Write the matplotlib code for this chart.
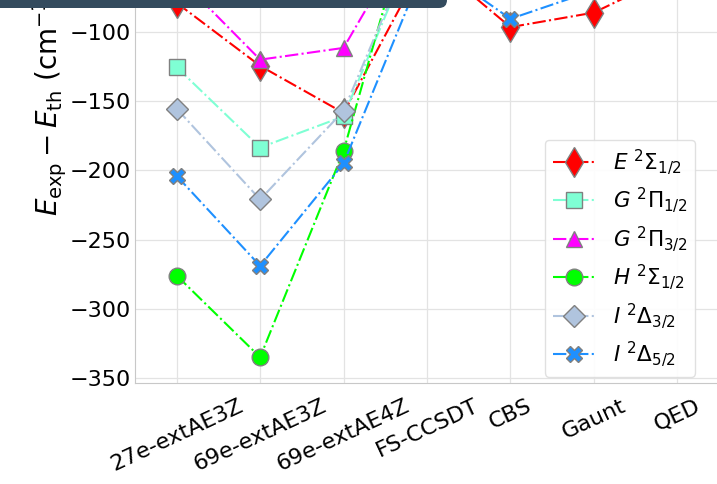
import matplotlib
matplotlib.use('Agg')
import matplotlib.pyplot as plt
from matplotlib.patches import FancyBboxPatch
from matplotlib.transforms import IdentityTransform

# Categories along x
steps = ['27e-extAE3Z', '69e-extAE3Z', '69e-extAE4Z', 'FS-CCSDT', 'CBS', 'Gaunt', 'QED']

# E_exp - E_th (cm^-1) per state (values above -77 are off-screen estimates)
e_sigma_12 = [-79, -124.5, -158.5, -46, -96.5, -86, -57]
g_pi_12 = [-125.5, -183.5, -161, -16, -45, -40, -35]
g_pi_32 = [-59, -120, -111.5, -8, -30, -25, -20]
h_sigma_12 = [-276, -335, -186, 28, -20, -15, -10]
i_delta_32 = [-155.5, -221, -157, -14, -40, -35, -30]
i_delta_52 = [-204, -269, -195, -48, -90.5, -70, -60]

series = [
    (e_sigma_12, r'$E\ ^2\Sigma_{1/2}$', 'red', 'd'),
    (g_pi_12, r'$G\ ^2\Pi_{1/2}$', 'aquamarine', 's'),
    (g_pi_32, r'$G\ ^2\Pi_{3/2}$', 'magenta', '^'),
    (h_sigma_12, r'$H\ ^2\Sigma_{1/2}$', 'lime', 'o'),
    (i_delta_32, r'$I\ ^2\Delta_{3/2}$', 'lightsteelblue', 'D'),
    (i_delta_52, r'$I\ ^2\Delta_{5/2}$', 'dodgerblue', 'X'),
]
marker_sizes = {'d': 15, 's': 12, '^': 12, 'o': 12, 'D': 11, 'X': 12}

plt.rcParams['font.family'] = ['DejaVu Sans']
fig = plt.figure(figsize=(7.17, 4.84), dpi=100)
ax = fig.add_axes([135 / 717, 1 - 383 / 484, (719 - 135) / 717, 383 / 484])

x = list(range(len(steps)))
for values, label, color, marker in series:
    ax.plot(x, values, linestyle='-.', color=color, linewidth=1.5,
            marker=marker, markersize=marker_sizes[marker],
            markerfacecolor=color, markeredgecolor='gray', markeredgewidth=1.0,
            label=label)

ax.set_xlim(-0.5, 6.5)
ax.set_ylim(-353.6, -76.9)
ax.set_xticks(x)
ax.set_xticklabels(steps, rotation=25, fontsize=16)
ax.set_yticks([-350, -300, -250, -200, -150, -100])
ax.set_yticklabels(['\u2212350', '\u2212300', '\u2212250', '\u2212200', '\u2212150', '\u2212100'])
ax.tick_params(axis='y', labelsize=16, length=0, pad=3)
ax.tick_params(axis='x', length=0, pad=9)
ax.set_ylabel(r'$E_{\rm exp} - E_{\rm th}$ (cm$^{-1}$)', fontsize=20)
ax.yaxis.set_label_coords(-0.113, 0.735)

ax.grid(color='#e3e3e3', linewidth=0.9)
ax.set_axisbelow(True)
for side in ['top', 'right']:
    ax.spines[side].set_visible(False)
for side in ['left', 'bottom']:
    ax.spines[side].set_color('#c8c8c8')

ax.legend(loc='upper left', bbox_to_anchor=(545 / 717, 1 - 140 / 484),
          bbox_transform=fig.transFigure, borderaxespad=0, fontsize=15.5,
          labelspacing=0.42, borderpad=0.35, framealpha=0.9, edgecolor='#dddddd')

# dark bar across the top-left corner of the screenshot
bar = FancyBboxPatch((-30, 484 - 8), 477, 40,
                     boxstyle='round,pad=0,rounding_size=8',
                     facecolor='#344b5e', edgecolor='none',
                     transform=IdentityTransform(), zorder=10)
fig.add_artist(bar)

fig.savefig('out.png', dpi=100)
plt.close()
